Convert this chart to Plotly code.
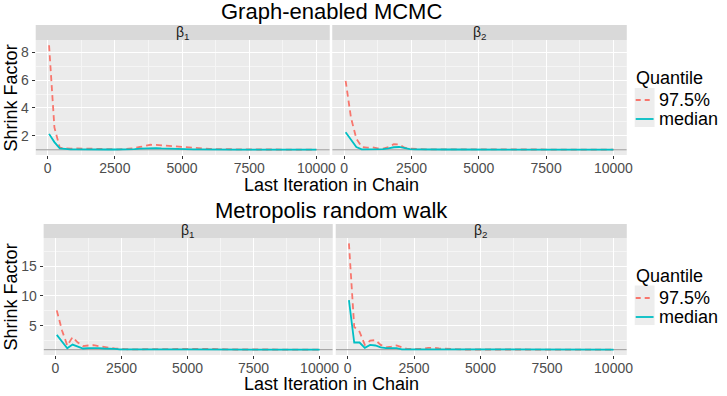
import plotly.graph_objects as go

# last iteration of each Gelman-Rubin bin
iterations = [51, 250, 449, 648, 847, 1046, 1245, 1444, 1643, 1842,
              2041, 2240, 2439, 2638, 2837, 3036, 3235, 3434, 3633, 3832,
              4031, 4230, 4429, 4628, 4827, 5026, 5225, 5424, 5623, 5822,
              6021, 6220, 6419, 6618, 6817, 7016, 7215, 7414, 7613, 7812,
              8011, 8210, 8409, 8608, 8807, 9006, 9205, 9404, 9603, 9802,
              10000]

# Graph-enabled MCMC
gmcmc_b1_q975 = [8.5, 2.6, 1.15, 1.1, 1.08, 1.1, 1.09, 1.07, 1.05, 1.04,
                 1.03, 1.02, 1.02, 1.03, 1.05, 1.08, 1.12, 1.2, 1.3, 1.36,
                 1.35, 1.32, 1.28, 1.22, 1.2, 1.18, 1.17, 1.14, 1.1, 1.07,
                 1.06, 1.05, 1.04, 1.04, 1.03, 1.03, 1.03, 1.02, 1.02, 1.02,
                 1.02, 1.02, 1.02, 1.02, 1.01, 1.01, 1.01, 1.01, 1.01, 1.01,
                 1.01]
gmcmc_b1_median = [2.14, 1.55, 1.1, 1.04, 1.03, 1.03, 1.02, 1.02, 1.02, 1.02,
                   1.02, 1.02, 1.02, 1.02, 1.02, 1.03, 1.05, 1.08, 1.1, 1.12,
                   1.12, 1.1, 1.08, 1.06, 1.05, 1.04, 1.03, 1.03, 1.03, 1.02,
                   1.02, 1.02, 1.02, 1.02, 1.02, 1.01, 1.01, 1.01, 1.01, 1.01,
                   1.01, 1.01, 1.01, 1.01, 1.01, 1.01, 1.01, 1.01, 1.01, 1.01,
                   1.01]
gmcmc_b2_q975 = [5.95, 3.3, 1.8, 1.2, 1.15, 1.18, 1.1, 1.08, 1.2, 1.4,
                 1.38, 1.15, 1.08, 1.05, 1.04, 1.03, 1.03, 1.03, 1.03, 1.02,
                 1.02, 1.02, 1.02, 1.02, 1.02, 1.02, 1.02, 1.02, 1.02, 1.02,
                 1.02, 1.02, 1.02, 1.02, 1.02, 1.01, 1.01, 1.01, 1.01, 1.01,
                 1.01, 1.01, 1.01, 1.01, 1.01, 1.01, 1.01, 1.01, 1.01, 1.01,
                 1.01]
gmcmc_b2_median = [2.26, 1.75, 1.2, 1.03, 1.03, 1.05, 1.04, 1.05, 1.1, 1.18,
                   1.2, 1.1, 1.05, 1.03, 1.02, 1.02, 1.02, 1.02, 1.02, 1.02,
                   1.02, 1.02, 1.01, 1.01, 1.01, 1.01, 1.01, 1.01, 1.01, 1.01,
                   1.01, 1.01, 1.01, 1.01, 1.01, 1.01, 1.01, 1.01, 1.01, 1.01,
                   1.01, 1.01, 1.01, 1.01, 1.01, 1.01, 1.01, 1.01, 1.01, 1.01,
                   1.01]

# Metropolis random walk
mrw_b1_q975 = [7.58, 4.2, 1.7, 3.1, 2.2, 1.6, 1.7, 1.75, 1.6, 1.4,
               1.3, 1.2, 1.1, 1.08, 1.06, 1.05, 1.05, 1.04, 1.04, 1.05,
               1.06, 1.08, 1.1, 1.12, 1.15, 1.18, 1.2, 1.18, 1.15, 1.12,
               1.08, 1.05, 1.04, 1.04, 1.03, 1.03, 1.03, 1.03, 1.03, 1.02,
               1.02, 1.02, 1.02, 1.02, 1.02, 1.02, 1.02, 1.02, 1.02, 1.02,
               1.02]
mrw_b1_median = [3.48, 2.35, 1.24, 1.85, 1.5, 1.2, 1.25, 1.3, 1.25, 1.2,
                 1.2, 1.15, 1.05, 1.04, 1.03, 1.03, 1.03, 1.03, 1.03, 1.03,
                 1.03, 1.03, 1.03, 1.03, 1.03, 1.04, 1.04, 1.03, 1.03, 1.03,
                 1.02, 1.02, 1.02, 1.02, 1.02, 1.02, 1.02, 1.02, 1.02, 1.02,
                 1.02, 1.02, 1.02, 1.02, 1.02, 1.02, 1.02, 1.02, 1.02, 1.02,
                 1.02]
mrw_b2_q975 = [18.8, 4.8, 4.0, 1.8, 2.5, 2.6, 1.8, 1.4, 1.5, 1.7,
               1.4, 1.15, 1.1, 1.08, 1.15, 1.3, 1.32, 1.2, 1.15, 1.1,
               1.05, 1.04, 1.03, 1.03, 1.03, 1.03, 1.03, 1.03, 1.03, 1.03,
               1.03, 1.03, 1.03, 1.03, 1.03, 1.02, 1.02, 1.02, 1.02, 1.02,
               1.02, 1.02, 1.02, 1.02, 1.02, 1.02, 1.02, 1.02, 1.02, 1.02,
               1.02]
mrw_b2_median = [9.3, 2.2, 2.2, 1.3, 1.8, 1.7, 1.4, 1.25, 1.25, 1.25,
                 1.05, 1.05, 1.04, 1.04, 1.06, 1.1, 1.08, 1.05, 1.03, 1.03,
                 1.02, 1.02, 1.02, 1.02, 1.02, 1.02, 1.02, 1.02, 1.02, 1.02,
                 1.02, 1.02, 1.02, 1.02, 1.02, 1.02, 1.02, 1.02, 1.02, 1.02,
                 1.02, 1.02, 1.02, 1.02, 1.02, 1.02, 1.02, 1.02, 1.02, 1.02,
                 1.02]

row_titles = ['Graph-enabled MCMC', 'Metropolis random walk']
facet_labels = ['β<sub>1</sub>', 'β<sub>2</sub>']
quantile_names = ['97.5%', 'median']
ref_line = 1

W, H = 727, 396
FONT = 'Liberation Sans, Arial, Helvetica, sans-serif'
RED = '#F8766D'
CYAN = '#00BFC4'


def fx(x):
    return x / W


def fy(y):
    return 1 - y / H


def expand(lo, hi):
    pad = 0.05 * (hi - lo)
    return [lo - pad, hi + pad]


# panel boxes in pixels: left, right, top, bottom
panels = [
    (36, 332.5, 40, 155),
    (335, 632, 40, 155),
    (44, 335.5, 238, 355),
    (338.5, 632, 238, 355),
]
strip_h = [15, 14]

series = [
    (gmcmc_b1_q975, gmcmc_b1_median),
    (gmcmc_b2_q975, gmcmc_b2_median),
    (mrw_b1_q975, mrw_b1_median),
    (mrw_b2_q975, mrw_b2_median),
]

x_range = expand(min(iterations), max(iterations))
y_ranges = []
for r in range(2):
    vals = series[2 * r][0] + series[2 * r][1] + series[2 * r + 1][0] + series[2 * r + 1][1]
    y_ranges.append(expand(min(min(vals), ref_line), max(vals)))

fig = go.Figure()
shapes = []
annotations = []
layout = {}

for i, (q975, med) in enumerate(series):
    row = i // 2
    col = i % 2
    xa = 'x' if i == 0 else 'x%d' % (i + 1)
    ya = 'y' if i == 0 else 'y%d' % (i + 1)
    # reference line at shrink factor 1, across the whole panel
    fig.add_scatter(x=x_range, y=[ref_line, ref_line], mode='lines', xaxis=xa, yaxis=ya,
                    line=dict(color='#9A9A9A', width=1), hoverinfo='skip', showlegend=False)
    fig.add_scatter(x=iterations, y=q975, mode='lines', xaxis=xa, yaxis=ya,
                    line=dict(color=RED, width=1.8, dash='6px,4px'),
                    name=quantile_names[0], showlegend=False)
    fig.add_scatter(x=iterations, y=med, mode='lines', xaxis=xa, yaxis=ya,
                    line=dict(color=CYAN, width=1.8),
                    name=quantile_names[1], showlegend=False)

    left, right, top, bottom = panels[i]
    key = '' if i == 0 else str(i + 1)
    layout['xaxis' + key] = dict(
        domain=[fx(left), fx(right)], anchor=ya, range=x_range,
        tick0=0, dtick=2500, tickformat='d', ticks='outside', ticklen=3,
        tickcolor='#333333', tickfont=dict(size=14, color='#4D4D4D'),
        ticklabelstandoff=-3,
        showgrid=True, gridcolor='#FFFFFF', gridwidth=1, zeroline=False,
        showline=False,
        minor=dict(dtick=1250, tick0=0, showgrid=True, gridcolor='#F5F5F5', gridwidth=0.6),
    )
    ydtick = 2 if row == 0 else 5
    layout['yaxis' + key] = dict(
        domain=[fy(bottom), fy(top)], anchor=xa, range=y_ranges[row],
        tick0=0, dtick=ydtick, ticks='outside' if col == 0 else '', ticklen=3,
        tickcolor='#333333', tickfont=dict(size=14, color='#4D4D4D'),
        showticklabels=(col == 0),
        showgrid=True, gridcolor='#FFFFFF', gridwidth=1, zeroline=False,
        showline=False,
        minor=dict(dtick=ydtick / 2, tick0=0, showgrid=True, gridcolor='#F5F5F5', gridwidth=0.6),
    )
    # panel background
    shapes.append(dict(type='rect', xref='paper', yref='paper', layer='below',
                       x0=fx(left), x1=fx(right), y0=fy(bottom), y1=fy(top),
                       fillcolor='#EBEBEB', line=dict(width=0)))
    # facet strip
    sh = strip_h[row]
    shapes.append(dict(type='rect', xref='paper', yref='paper', layer='below',
                       x0=fx(left), x1=fx(right), y0=fy(top), y1=fy(top - sh),
                       fillcolor='#D9D9D9', line=dict(width=0)))
    annotations.append(dict(xref='paper', yref='paper', x=fx((left + right) / 2),
                            y=fy(top - sh / 2), text=facet_labels[col], showarrow=False,
                            font=dict(size=14, color='#1A1A1A'),
                            xanchor='center', yanchor='middle'))

# titles and axis titles per row
for r in range(2):
    top = panels[2 * r][2]
    bottom = panels[2 * r][3]
    annotations.append(dict(xref='paper', yref='paper', x=fx(334), y=fy([12, 210][r]),
                            text=row_titles[r], showarrow=False, font=dict(size=22, color='black'),
                            xanchor='center', yanchor='middle'))
    annotations.append(dict(xref='paper', yref='paper', x=fx(334), y=fy([185, 384][r]),
                            text='Last Iteration in Chain', showarrow=False,
                            font=dict(size=18, color='black'), xanchor='center', yanchor='middle'))
    annotations.append(dict(xref='paper', yref='paper', x=fx(11), y=fy((top + bottom) / 2),
                            text='Shrink Factor', showarrow=False, textangle=-90,
                            font=dict(size=18, color='black'), xanchor='center', yanchor='middle'))

    # legend
    ty, y1, y2, box_top, box_bot = [(78, 100, 119, 88, 127), (276, 298, 317, 285.5, 325)][r]
    annotations.append(dict(xref='paper', yref='paper', x=fx(639), y=fy(ty), text='Quantile',
                            showarrow=False, font=dict(size=18, color='black'),
                            xanchor='left', yanchor='middle'))
    shapes.append(dict(type='rect', xref='paper', yref='paper', layer='below',
                       x0=fx(640), x1=fx(660), y0=fy(box_bot), y1=fy(box_top),
                       fillcolor='#EDEDED', line=dict(width=0)))
    for name, yy, color, dash in [(quantile_names[0], y1, RED, '5px,4px'),
                                  (quantile_names[1], y2, CYAN, 'solid')]:
        shapes.append(dict(type='line', xref='paper', yref='paper',
                           x0=fx(641), x1=fx(659), y0=fy(yy), y1=fy(yy),
                           line=dict(color=color, width=1.8, dash=dash)))
        annotations.append(dict(xref='paper', yref='paper', x=fx(662), y=fy(yy), text=name,
                                showarrow=False, font=dict(size=18, color='black'),
                                xanchor='left', yanchor='middle'))

fig.update_layout(
    width=W, height=H,
    margin=dict(l=0, r=0, t=0, b=0),
    paper_bgcolor='white',
    plot_bgcolor='rgba(0,0,0,0)',
    font=dict(family=FONT),
    showlegend=False,
    shapes=shapes,
    annotations=annotations,
    **layout,
)

# the page body has a default 8px margin; drop it so the figure fills the window
fig.write_html("out.html", config={'displayModeBar': False},
               post_script="document.body.style.margin='0';")
